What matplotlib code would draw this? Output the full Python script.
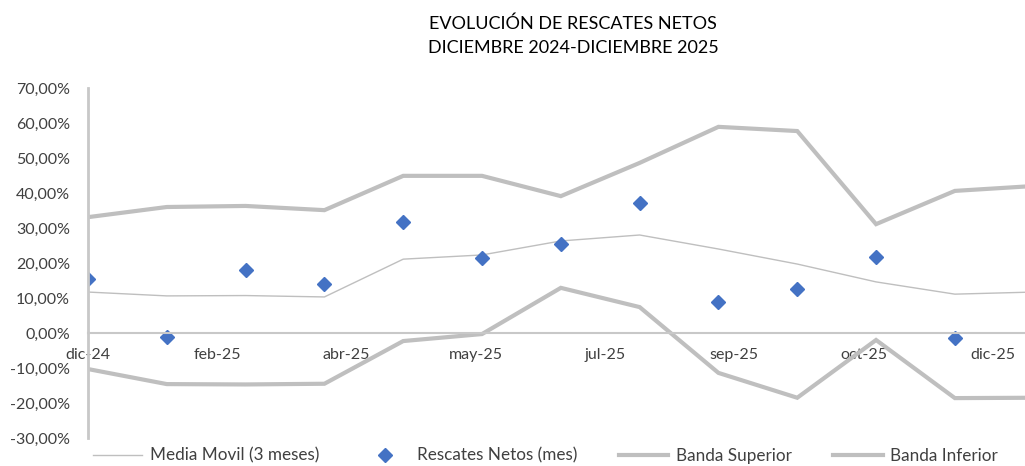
import numpy as np
import matplotlib
matplotlib.use("Agg")
import matplotlib.pyplot as plt
from matplotlib.ticker import FuncFormatter

plt.rcParams['font.family'] = ['Lato', 'DejaVu Sans']

# ---------------------------------------------------------------- data (in %)
rescates = [15.4, -1.1, 18.0, 14.0, 31.7, 21.4, 25.4, 37.1, 8.9, 12.6, 21.7, -1.4]
media_movil = [11.7, 10.6, 10.7, 10.3, 21.1, 22.3, 26.3, 28.0, 24.0, 19.7, 14.6, 11.1, 11.7]
banda_sup = [33.1, 36.0, 36.3, 35.1, 44.9, 44.9, 39.1, 48.6, 58.9, 57.7, 31.1, 40.6, 42.0]
banda_inf = [-10.3, -14.6, -14.7, -14.5, -2.3, -0.3, 12.9, 7.4, -11.4, -18.5, -2.0, -18.6, -18.5]
tick_labels = ['dic-24', 'feb-25', 'abr-25', 'may-25', 'jul-25', 'sep-25', 'oct-25', 'dic-25']

grey = '#bfbfbf'
axis_grey = '#c8c8c8'
text_grey = '#404040'
blue = '#4472c4'

fig = plt.figure(figsize=(10.25, 4.66), dpi=100)
ax = fig.add_axes([88 / 1025, 28 / 466, 1 - 88 / 1025, 350 / 466])

x_line = np.arange(len(media_movil))
x_pts = np.arange(len(rescates))

l1, = ax.plot(x_line, media_movil, color=grey, lw=1.0, label='Media Movil (3 meses)')
l2, = ax.plot(x_pts, rescates, ls='none', marker='D', ms=7.4, color=blue, label='Rescates Netos (mes)')
l3, = ax.plot(x_line, banda_sup, color=grey, lw=3.0, label='Banda Superior', solid_joinstyle='miter')
l4, = ax.plot(x_line, banda_inf, color=grey, lw=3.0, label='Banda Inferior', solid_joinstyle='miter')

ax.set_xlim(0, 11.89)
ax.set_ylim(-30, 70)
ax.set_yticks(np.arange(-30, 71, 10))
ax.yaxis.set_major_formatter(FuncFormatter(lambda v, p: f'{v:.2f}'.replace('.', ',') + '%'))

# category labels spaced along the axis like the original
ax.set_xticks(np.linspace(0, 11.48, len(tick_labels)))
ax.set_xticklabels(tick_labels)

for s in ['top', 'right']:
    ax.spines[s].set_visible(False)
ax.spines['bottom'].set_position(('data', 0))
ax.spines['bottom'].set_color(axis_grey)
ax.spines['bottom'].set_linewidth(1.5)
ax.spines['left'].set_color(axis_grey)
ax.spines['left'].set_linewidth(2)
ax.tick_params(axis='both', length=0, labelsize=11.5, colors=text_grey)
ax.tick_params(axis='y', pad=13)
ax.tick_params(axis='x', pad=11)
ax.set_zorder(1)
ax.patch.set_visible(False)

fig.text(0.559, 0.950, 'EVOLUCIÓN DE RESCATES NETOS', ha='center', va='center',
         fontsize=13, color='black')
fig.text(0.559, 0.897, 'DICIEMBRE 2024-DICIEMBRE 2025', ha='center', va='center',
         fontsize=13, color='black')

fig.legend(handles=[l1, l2, l3, l4], ncol=4, loc='center', bbox_to_anchor=(0.532, 0.022),
           frameon=False, fontsize=12.3, labelcolor=text_grey, handlelength=2.9,
           columnspacing=2.4, handletextpad=0.45, borderpad=0)

fig.savefig('out.png', dpi=100)
